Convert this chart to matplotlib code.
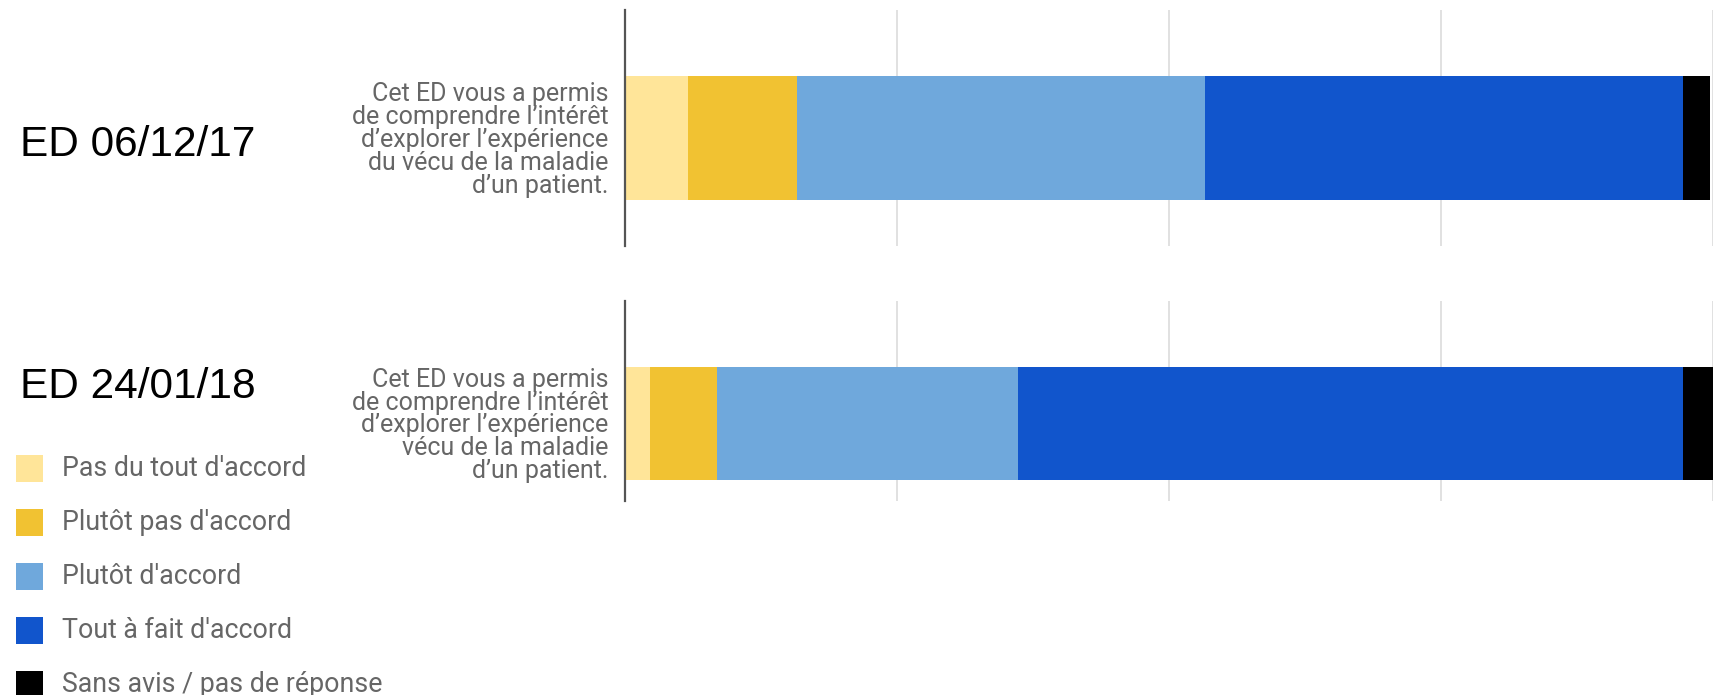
import numpy as np
import matplotlib.pyplot as plt
from matplotlib.patches import Rectangle

# answer categories and colours (Google sheets palette)
categories = ["Pas du tout d'accord", "Plutôt pas d'accord", "Plutôt d'accord",
              "Tout à fait d'accord", "Sans avis / pas de réponse"]
colors = ["#ffe599", "#f1c232", "#6fa8dc", "#1155cc", "#000000"]

sessions = ["ED 06/12/17", "ED 24/01/18"]
questions = ["Cet ED vous a permis\nde comprendre l’intérêt\nd’explorer l’expérience\ndu vécu de la maladie\nd’un patient.",
             "Cet ED vous a permis\nde comprendre l’intérêt\nd’explorer l’expérience\nvécu de la maladie\nd’un patient."]

# % of answers
ed1_values = [5.8, 10.0, 37.5, 43.9, 2.5]
ed2_values = [2.3, 6.2, 27.6, 61.1, 2.8]
xticks = [25, 50, 75, 100]

W, H = 1719, 695
fig = plt.figure(figsize=(W / 100, H / 100), dpi=100)

def px_axes(x0, y0, x1, y1):
    return fig.add_axes([x0 / W, 1 - y1 / H, (x1 - x0) / W, (y1 - y0) / H])

def stacked(ax, values, question, ylim, height):
    left = 0
    for v, c in zip(values, colors):
        ax.barh(0, v, left=left, height=height, color=c, linewidth=0, zorder=3)
        left += v
    ax.set_xlim(0, 100)
    ax.set_ylim(*ylim)
    ax.set_xticks(xticks)
    ax.set_xticklabels([])
    ax.tick_params(axis='x', length=0)
    ax.grid(axis='x', color='#dedede', linewidth=1.3, zorder=0)
    ax.set_yticks([0])
    ax.set_yticklabels([question], fontfamily='Roboto', fontsize=18,
                       color='#666666', linespacing=0.94)
    ax.tick_params(axis='y', length=0, pad=12)
    for s in ['top', 'right', 'bottom']:
        ax.spines[s].set_visible(False)
    ax.spines['left'].set_color('#555555')
    ax.spines['left'].set_linewidth(1.6)
    ax.spines['left'].set_zorder(4)

ax1 = px_axes(625, 10, 1713, 246)
stacked(ax1, ed1_values, questions[0], (-0.458, 0.542), 0.525)
ax2 = px_axes(625, 301, 1713, 501)
stacked(ax2, ed2_values, questions[1], (-0.3875, 0.6125), 0.565)

# session labels
fig.text(20 / W, 1 - 145 / H, sessions[0], fontfamily='Liberation Sans',
         fontsize=30.5, va='center', ha='left', color='black')
fig.text(20 / W, 1 - 387 / H, sessions[1], fontfamily='Liberation Sans',
         fontsize=30.5, va='center', ha='left', color='black')

# legend drawn by hand, bottom left
for i, (cat, c) in enumerate(zip(categories, colors)):
    yc = 468 + i * 54
    fig.add_artist(Rectangle((16 / W, 1 - (yc + 13.5) / H), 27 / W, 27 / H,
                             transform=fig.transFigure, color=c, linewidth=0))
    fig.text(62 / W, 1 - yc / H, cat, fontfamily='Roboto', fontsize=19.3,
             color='#666666', va='center', ha='left')

fig.savefig('out.png', dpi=100)
